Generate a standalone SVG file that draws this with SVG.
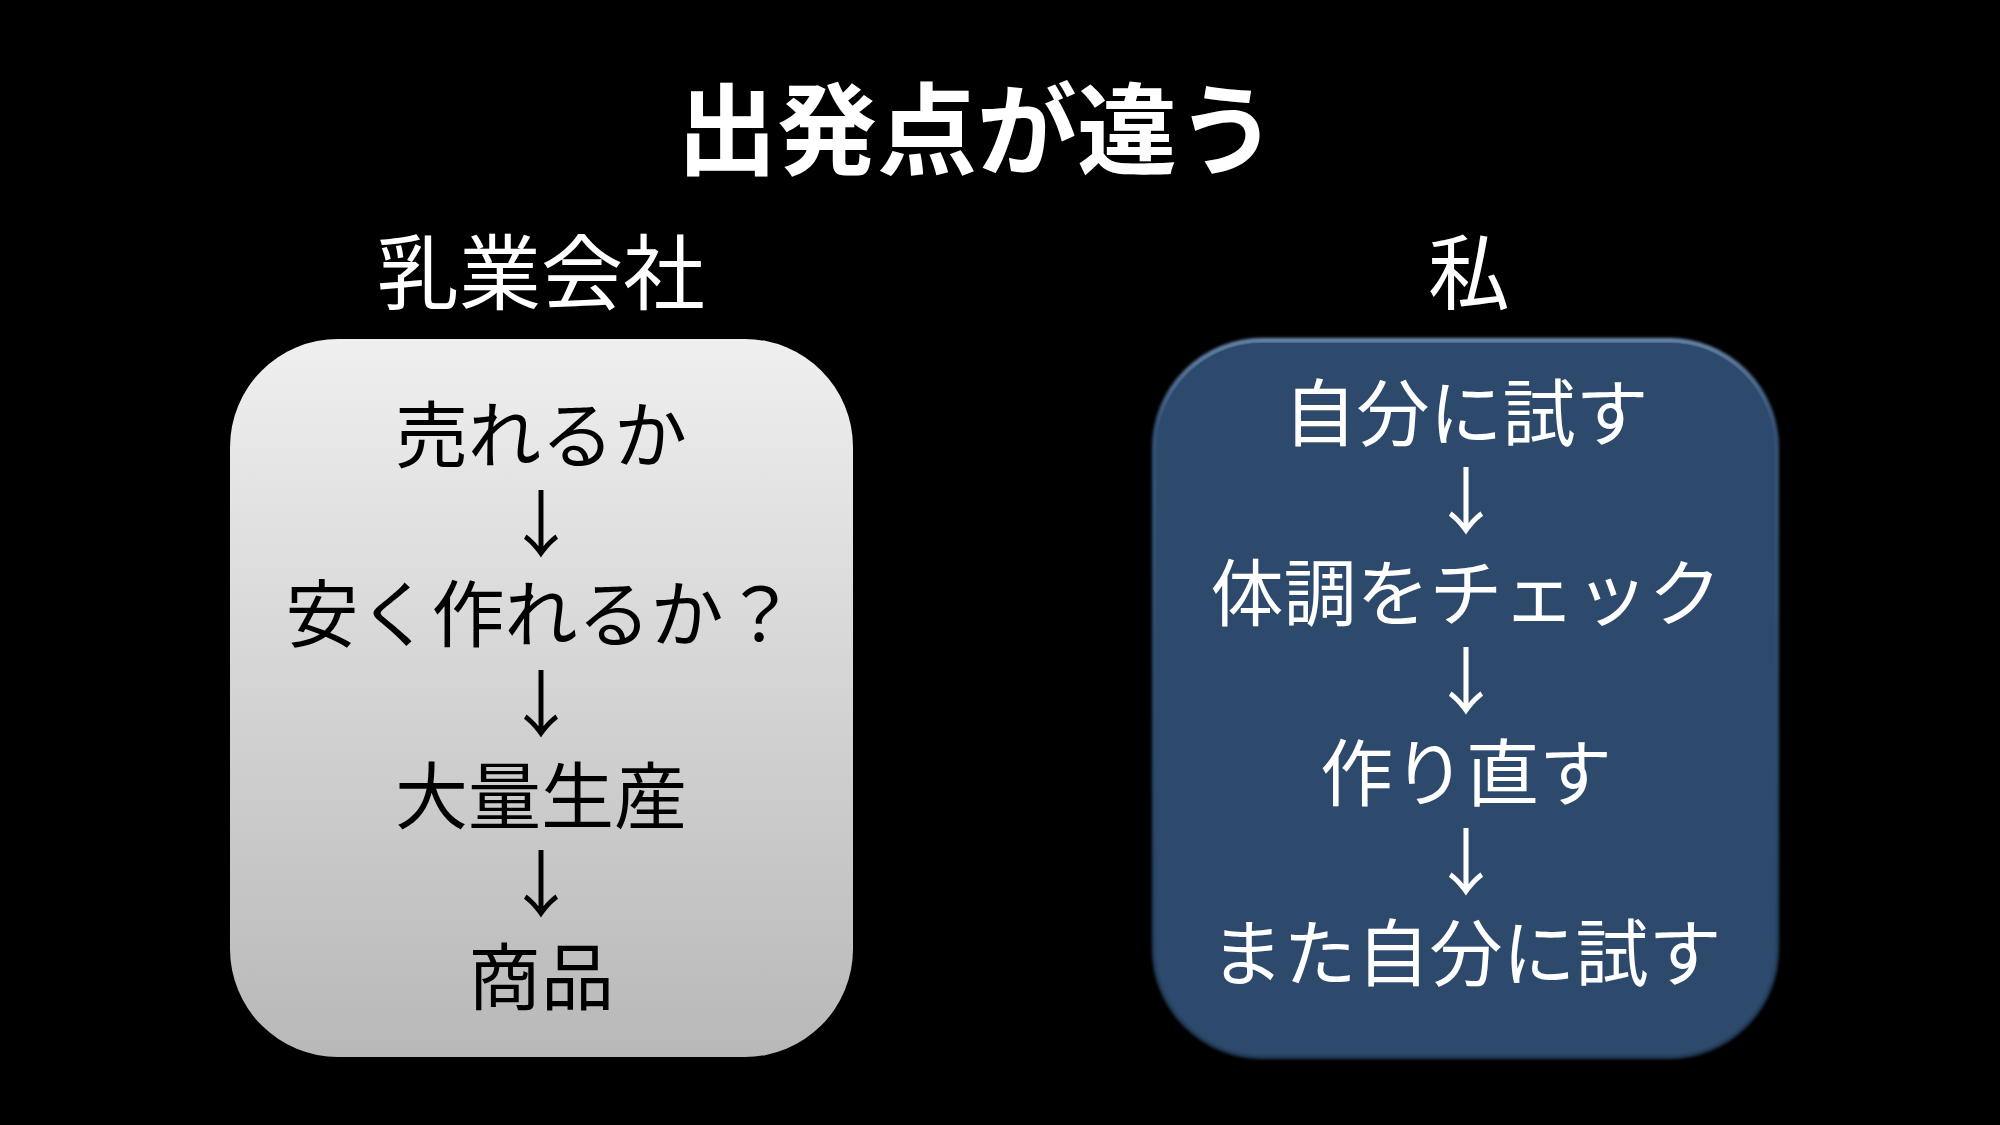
<svg xmlns="http://www.w3.org/2000/svg" width="2000" height="1125" viewBox="0 0 2000 1125">
<defs>
<linearGradient id="gGray" x1="0" y1="0" x2="0" y2="1">
<stop offset="0" stop-color="#efefef"/>
<stop offset="1" stop-color="#b8b8b8"/>
</linearGradient>
<linearGradient id="gEdge" x1="0" y1="0" x2="0" y2="1">
<stop offset="0" stop-color="#6f8db3"/>
<stop offset="0.12" stop-color="#36567d"/>
<stop offset="1" stop-color="#223d5c"/>
</linearGradient>
<filter id="soft" x="-5%" y="-5%" width="110%" height="110%">
<feGaussianBlur stdDeviation="1.5"/>
</filter>
</defs>
<style>
text{font-family:"Noto Sans CJK JP","Noto Sans CJK SC",sans-serif;text-anchor:middle}
.title{font-size:100px;font-weight:700;fill:#ffffff}
.head{font-size:82px;fill:#ffffff}
.dark{font-size:73px;fill:#000000}
.light{font-size:73px;fill:#ffffff}
</style>
<rect x="0" y="0" width="2000" height="1125" fill="#000000"/>
<g id="title"><text class="title" x="977" y="167">出発点が違う</text></g>
<g id="head-left"><text class="head" x="541" y="303">乳業会社</text></g>
<g id="head-right"><text class="head" x="1469" y="303">私</text></g>
<g id="box-left">
<rect x="230" y="339" width="623" height="718" rx="108" ry="108" fill="url(#gGray)"/>
<text class="dark" x="541" y="462">売れるか</text>
<text class="dark" x="541" y="551">↓</text>
<text class="dark" x="541" y="641">安く作れるか？</text>
<text class="dark" x="541" y="731">↓</text>
<text class="dark" x="541" y="823">大量生産</text>
<text class="dark" x="541" y="911">↓</text>
<text class="dark" x="541" y="1004">商品</text>
</g>
<g id="box-right">
<rect x="1154" y="340" width="623" height="717" rx="108" ry="108" fill="#2d4a6c" stroke="url(#gEdge)" stroke-width="4" filter="url(#soft)"/>
<rect x="1157" y="343" width="617" height="711" rx="105" ry="105" fill="#2d4a6c"/>
<text class="light" x="1466" y="440">自分に試す</text>
<text class="light" x="1466" y="528">↓</text>
<text class="light" x="1466" y="620">体調をチェック</text>
<text class="light" x="1466" y="708">↓</text>
<text class="light" x="1466" y="800">作り直す</text>
<text class="light" x="1466" y="889">↓</text>
<text class="light" x="1466" y="980">また自分に試す</text>
</g>
<g id="connectors"></g>
</svg>
